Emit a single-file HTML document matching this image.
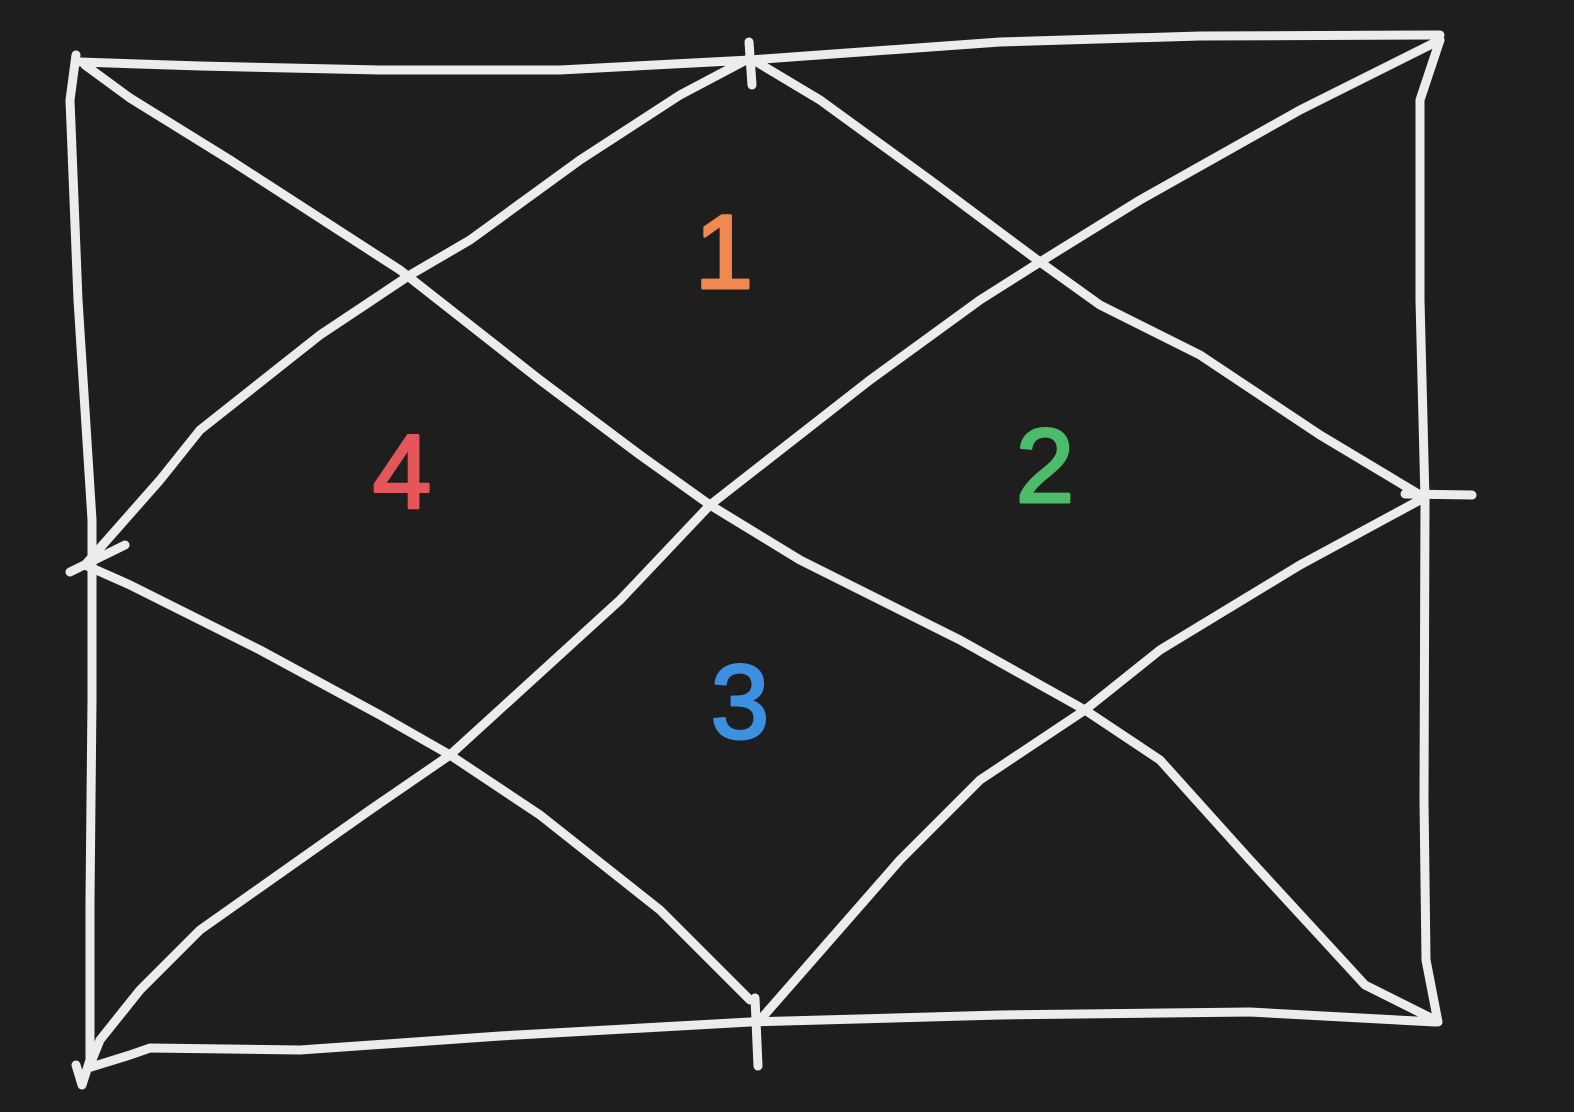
<!DOCTYPE html>
<html>
<head>
<meta charset="utf-8">
<style>
  html,body{margin:0;padding:0;background:#1e1e1e;}
  svg{display:block;}
  .s{fill:none;stroke:#ececec;stroke-width:9;stroke-linecap:round;stroke-linejoin:round;}
  .n{font-family:"Liberation Sans",sans-serif;font-size:105px;text-anchor:middle;stroke-width:3;stroke-linejoin:round;}
</style>
</head>
<body>
<svg width="1574" height="1112" viewBox="0 0 1574 1112">
  <rect width="1574" height="1112" fill="#1e1e1e"/>
  <g>
    <polyline class="s" points="80,62 200,66 380,70 560,70 750,60 1000,42 1200,36 1440,35"/>
    <polyline class="s" points="76,55 70,100 78,300 92,520 92,700 90,900 90,1060 82,1085 76,1065"/>
    <polyline class="s" points="88,1068 130,1055 150,1048 300,1050 500,1036 750,1022 1000,1015 1250,1012 1435,1022"/>
    <polyline class="s" points="1440,40 1420,100 1420,300 1425,500 1424,800 1426,960 1438,1022"/>
  </g>
  <g>
    <polyline class="s" points="85,65 130,98 230,160 400,270 540,380 640,455 710,505 800,560 960,640 1085,710 1160,760 1250,860 1365,985 1435,1020"/>
    <polyline class="s" points="1440,40 1300,110 1140,200 1040,262 980,300 870,380 710,505 620,600 450,755 370,810 200,930 140,990 100,1040 90,1065"/>
    <polyline class="s" points="750,58 820,100 930,180 1040,262 1100,305 1200,355 1320,435 1420,495"/>
    <polyline class="s" points="750,58 680,95 580,160 470,240 410,275 320,335 200,430 160,480 85,565"/>
    <polyline class="s" points="85,565 130,585 260,650 380,715 450,755 540,815 660,910 750,1000"/>
    <polyline class="s" points="1420,500 1300,565 1160,650 1085,710 980,780 900,860 830,940 760,1020"/>
  </g>
  <g>
    <line class="s" x1="749" y1="42" x2="752" y2="85"/>
    <line class="s" x1="755" y1="998" x2="758" y2="1066"/>
    <line class="s" x1="70" y1="572" x2="125" y2="545"/>
    <line class="s" x1="1405" y1="494" x2="1472" y2="495"/>
  </g>
  <text class="n" x="724" y="288" fill="#f0894f" stroke="#f0894f">1</text>
  <text class="n" x="1045" y="502" fill="#4cbb6a" stroke="#4cbb6a">2</text>
  <text class="n" x="740" y="738" fill="#3d8fe0" stroke="#3d8fe0">3</text>
  <text class="n" x="402" y="508" fill="#e5565a" stroke="#e5565a">4</text>
</svg>
</body>
</html>
